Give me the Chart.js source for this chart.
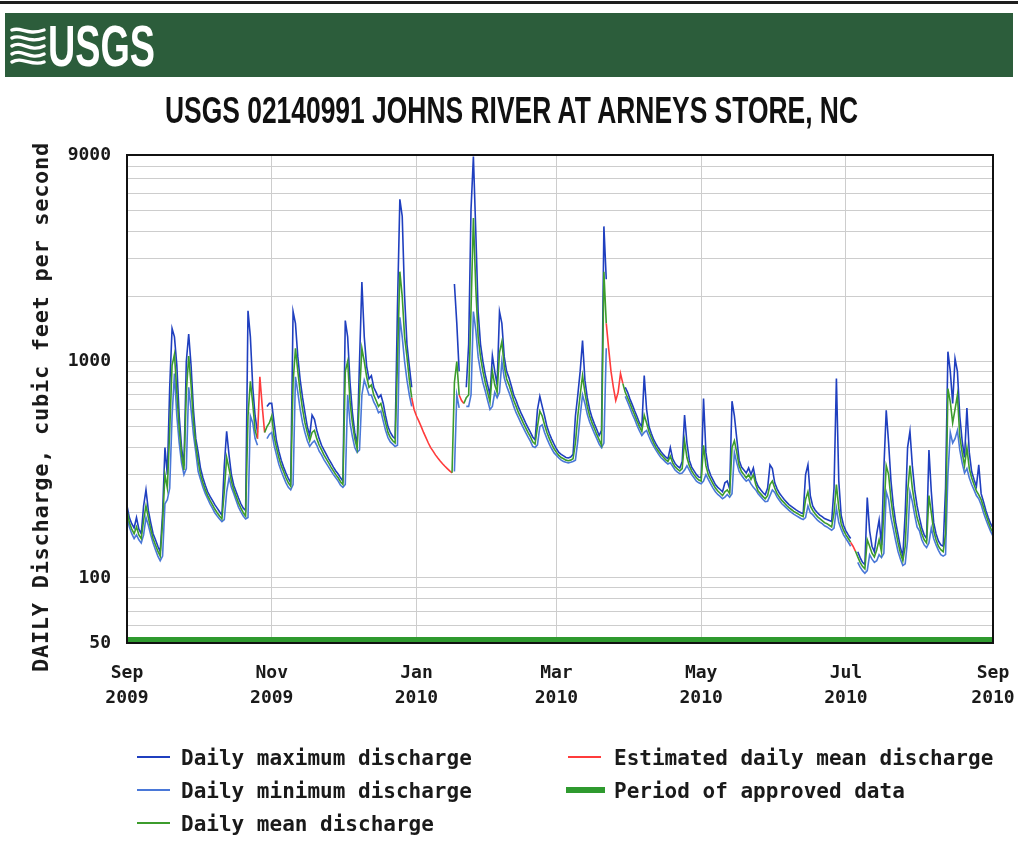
<!DOCTYPE html>
<html>
<head>
<meta charset="utf-8">
<title>USGS 02140991 JOHNS RIVER AT ARNEYS STORE, NC</title>
<script src="https://cdn.jsdelivr.net/npm/chart.js@4.4.1/dist/chart.umd.min.js"></script>
<style>
  html, body { margin: 0; padding: 0; background: #fff; }
  body { width: 1018px; height: 859px; position: relative; overflow: hidden; }
  #flow { position: absolute; left: 0; top: 0; }
  #topRule { position: absolute; left: 0; top: 1px; width: 1018px; height: 3px; background: #1e1e1e; }
  #banner { position: absolute; left: 5px; top: 13px; width: 1008px; height: 64px; background: #2c5d3b; }
  #logoMark { position: absolute; left: 10px; top: 25px; }
  .fit { position: absolute; white-space: nowrap; transform-origin: 0 0; display: inline-block; }
  #logoText { left: 48px; top: 17px; color: #fff; font: bold 58px/58px 'Liberation Sans Narrow', 'Liberation Sans', Arial, sans-serif; }
  #title { left: 165px; top: 92px; color: #111; font: bold 37px/37px 'Liberation Sans Narrow', 'Liberation Sans', Arial, sans-serif; }
  #yTitle { position: absolute; left: -229px; top: 394px; width: 540px; height: 26px; text-align: center;
            transform: rotate(-90deg); transform-origin: 50% 50%; white-space: nowrap;
            font: bold 22px/26px 'DejaVu Sans Mono', monospace; letter-spacing: 0.7px; color: #1a1a1a; }
  .key { position: absolute; height: 2px; }
  .keyText { position: absolute; white-space: nowrap; font: bold 21px/24px 'DejaVu Sans Mono', monospace; color: #1a1a1a; }
</style>
</head>
<body>
<canvas id="flow" width="1018" height="859"></canvas>
<div id="topRule"></div>
<div id="banner"></div>
<svg id="logoMark" width="36" height="42" viewBox="0 0 36 42">
  <g fill="none" stroke="#fff" stroke-width="3.4" stroke-linecap="round">
    <path d="M2 5 C 11 1, 17 11, 34 5"/>
    <path d="M2 13 C 11 8, 18 19, 34 13"/>
    <path d="M2 21 C 12 15, 20 28, 34 21"/>
    <path d="M2 29 C 12 23, 20 36, 34 29"/>
    <path d="M2 37 C 12 31, 22 42, 34 37"/>
  </g>
</svg>
<span id="logoText" class="fit">USGS</span>
<span id="title" class="fit">USGS 02140991 JOHNS RIVER AT ARNEYS STORE, NC</span>
<div id="yTitle">DAILY Discharge, cubic feet per second</div>

<div class="key" style="left:137px; top:756px; width:33px; background:#1f3fbf;"></div>
<span class="keyText" style="left:181px; top:746px;">Daily maximum discharge</span>
<div class="key" style="left:137px; top:789px; width:33px; background:#4a78d8;"></div>
<span class="keyText" style="left:181px; top:779px;">Daily minimum discharge</span>
<div class="key" style="left:137px; top:822px; width:33px; background:#3c9c2c;"></div>
<span class="keyText" style="left:181px; top:812px;">Daily mean discharge</span>
<div class="key" style="left:568px; top:756px; width:33px; background:#ff3b3b;"></div>
<span class="keyText" style="left:614px; top:746px;">Estimated daily mean discharge</span>
<div class="key" style="left:566px; top:787px; width:39px; height:6px; background:#2f9a2f;"></div>
<span class="keyText" style="left:614px; top:779px;">Period of approved data</span>

<script>
// Daily discharge, cubic feet per second, one value per day from 2009-09-01 (day 0) to 2010-09-01 (day 365).
const dailyMean = [
  // Sep 2009
  205,180,168,160,172,158,152,185,215,190,168,152,142,133,126,180,300,260,480,960,1080,720,490,370,315,720,1060,780,530,410,
  // Oct 2009
  345,300,275,255,240,228,218,208,200,193,187,250,360,320,280,255,238,222,210,200,193,560,810,640,480,440,850,620,470,500,520,
  // Nov 2009
  560,450,400,360,330,310,290,275,265,800,1150,900,720,600,520,470,430,470,480,440,410,390,370,355,340,325,312,300,290,278,
  // Dec 2009
  270,900,1000,650,520,440,395,700,1150,1000,850,760,780,700,660,620,640,580,520,470,445,430,420,1000,2600,2000,1300,1050,820,680,600,
  // Jan 2010
  560,530,500,470,445,420,400,385,370,358,347,337,328,320,312,306,800,1000,700,660,640,680,700,1750,4600,2200,1300,1050,900,800,720,
  // Feb 2010
  650,900,780,720,1100,1235,950,830,780,720,660,620,580,550,520,495,470,450,425,415,500,590,560,510,470,440,415,395,
  // Mar 2010
  380,368,360,355,350,348,350,355,420,560,700,860,720,620,560,520,490,460,435,410,2600,1500,1150,900,760,660,720,880,790,720,680,
  // Apr 2010
  640,600,565,530,500,475,565,520,475,445,420,400,385,372,362,352,345,365,340,326,318,312,320,430,360,330,312,300,290,283,
  // May 2010
  280,410,330,300,285,272,260,252,246,240,250,255,245,400,430,380,330,310,300,290,300,285,300,270,252,245,238,232,240,270,280,
  // Jun 2010
  260,245,236,228,222,216,211,207,203,200,197,194,192,230,250,215,205,198,192,188,184,180,178,175,172,200,270,210,178,166,
  // Jul 2010
  158,152,146,140,133,125,118,113,110,150,140,130,125,135,150,132,200,330,300,230,190,165,145,130,120,140,250,330,260,220,190,
  // Aug 2010 and 1 Sep 2010
  175,160,150,145,240,200,165,150,140,135,132,160,750,650,520,600,700,450,380,330,400,320,290,270,252,242,230,212,196,182,170,162
];

const dailyMax = [
  // Sep 2009
  215,190,178,170,190,168,160,215,255,205,180,160,150,140,132,200,400,300,760,1420,1300,960,560,400,330,1000,1340,960,600,440,
  // Oct 2009
  380,320,290,268,250,238,228,218,210,202,195,330,476,370,300,268,250,234,220,210,205,1715,1300,760,560,470,null,null,null,620,640,
  // Nov 2009
  640,520,430,385,350,325,305,288,275,1700,1500,1050,820,680,580,500,455,565,540,480,440,410,390,372,355,340,325,312,302,290,
  // Dec 2009
  280,1545,1300,800,580,470,410,1000,2330,1300,950,830,860,760,720,680,700,640,560,500,470,450,440,1800,5620,4690,2000,1200,950,760,null,
  // Jan 2010
  null,null,null,null,null,null,null,null,null,null,null,null,null,null,null,null,2280,1500,900,null,null,760,1200,5050,8850,4000,1700,1200,1000,870,780,
  // Feb 2010
  700,1065,900,780,1700,1500,1050,900,840,770,700,660,615,580,550,520,495,472,448,435,600,690,620,560,500,465,438,415,
  // Mar 2010
  395,380,372,366,360,358,362,372,560,700,900,1250,820,680,600,550,515,485,455,480,4210,2400,null,null,null,null,null,null,null,760,720,
  // Apr 2010
  670,630,590,555,520,500,860,600,500,465,435,415,398,384,372,362,355,400,355,338,328,322,345,565,420,350,325,312,300,292,
  // May 2010
  290,675,380,320,298,284,270,262,256,250,275,280,258,655,560,440,350,325,315,305,322,300,322,282,265,256,248,242,260,333,320,
  // Jun 2010
  275,258,246,238,230,224,218,214,210,206,203,200,198,300,333,240,215,206,200,195,192,188,186,184,182,260,835,280,195,175,
  // Jul 2010
  165,158,152,null,null,132,124,118,115,235,165,140,132,160,185,142,320,595,420,280,215,180,158,138,126,200,400,476,330,255,215,
  // Aug 2010 and 1 Sep 2010
  190,170,158,152,390,250,180,160,148,142,140,260,1110,900,640,1030,900,560,430,360,610,380,310,285,265,333,245,225,205,190,178,170
];

const dailyMin = [
  // Sep 2009
  190,172,160,152,158,150,145,158,190,175,158,145,135,126,120,126,220,230,260,560,880,560,420,340,300,320,760,600,460,380,
  // Oct 2009
  310,285,262,245,232,220,210,200,193,187,182,186,250,290,262,245,228,212,202,193,187,190,560,520,440,410,null,null,null,440,460,
  // Nov 2009
  470,410,370,335,312,292,275,262,255,270,850,720,600,520,470,430,405,420,430,410,385,370,352,338,325,312,300,290,280,268,
  // Dec 2009
  262,270,700,520,450,400,380,390,700,820,760,700,700,650,620,580,590,530,480,445,425,415,405,410,1600,1300,1000,820,700,620,null,
  // Jan 2010
  null,null,null,null,null,null,null,null,null,null,null,null,null,null,null,null,310,700,610,null,null,620,620,700,1700,1400,1050,900,800,730,660,
  // Feb 2010
  600,620,720,680,720,1000,840,770,720,670,620,580,550,520,495,470,448,428,405,400,412,500,510,470,440,415,395,378,
  // Mar 2010
  368,358,350,345,342,340,342,345,350,430,560,700,640,570,525,495,465,440,415,400,420,1150,null,null,null,null,null,null,null,690,650,
  // Apr 2010
  610,570,540,505,478,455,470,480,450,425,405,388,373,360,352,343,336,340,328,315,308,303,305,315,330,315,300,290,280,275,
  // May 2010
  272,280,300,285,272,260,250,243,238,232,236,243,236,245,380,340,310,298,288,280,285,272,262,255,245,238,231,225,226,240,255,
  // Jun 2010
  248,236,228,220,215,210,205,201,197,194,191,188,186,190,215,200,196,190,185,181,178,174,172,169,166,170,210,180,168,158,
  // Jul 2010
  152,146,140,null,null,118,112,108,105,108,128,122,118,120,128,124,130,250,230,190,168,148,132,122,114,116,150,250,225,195,172,
  // Aug 2010 and 1 Sep 2010
  165,150,142,138,145,170,152,142,134,128,126,128,300,470,420,440,480,390,340,305,320,290,270,255,240,232,218,200,186,174,164,156
];

// Day ranges (inclusive) whose mean discharge is estimated.
const estimatedSpans = [[56, 58], [121, 137], [141, 142], [203, 209], [306, 307]];

// First and last day of approved record.
const approvedPeriod = [0, 365];

// Axis ticks.
const monthTicks = [0, 61, 122, 181, 242, 303, 365];
const monthLabels = [['Sep', '2009'], ['Nov', '2009'], ['Jan', '2010'], ['Mar', '2010'], ['May', '2010'], ['Jul', '2010'], ['Sep', '2010']];
const gridValues = [50, 60, 70, 80, 90, 100, 200, 300, 400, 500, 600, 700, 800, 900,
                    1000, 2000, 3000, 4000, 5000, 6000, 7000, 8000, 9000];
const labeledValues = [50, 100, 1000, 9000];

const MONO = "'DejaVu Sans Mono', monospace";
const GREEN = '#3c9c2c', RED = '#ff3b3b', MAXBLUE = '#1f3fbf', MINBLUE = '#4a78d8';
const GRID = '#cdcdcd';
const APPROVED_LEVEL = 51.6;   // draws the approved-record bar just above the axis floor

const estimatedDay = new Set();
estimatedSpans.forEach(([a, b]) => { for (let d = a; d <= b; d++) estimatedDay.add(d); });
const toPoints = arr => arr.map((v, i) => ({ x: i, y: v }));

const framePlugin = {
  id: 'frame',
  afterDraw(chart) {
    const { ctx, chartArea: a } = chart;
    ctx.save();
    ctx.strokeStyle = '#111';
    ctx.lineWidth = 2;
    ctx.strokeRect(a.left, a.top, a.right - a.left, a.bottom - a.top);
    ctx.restore();
  }
};

const lineBase = { pointRadius: 0, tension: 0, spanGaps: false, fill: false };

new Chart(document.getElementById('flow'), {
  type: 'line',
  data: {
    datasets: [
      Object.assign({}, lineBase, {
        label: 'Daily mean discharge', data: toPoints(dailyMean),
        borderColor: GREEN, borderWidth: 1.6, order: 0,
        segment: { borderColor: c => estimatedDay.has(c.p1DataIndex) ? RED : undefined }
      }),
      Object.assign({}, lineBase, {
        label: 'Daily minimum discharge', data: toPoints(dailyMin),
        borderColor: MINBLUE, borderWidth: 1.6, order: 1
      }),
      Object.assign({}, lineBase, {
        label: 'Daily maximum discharge', data: toPoints(dailyMax),
        borderColor: MAXBLUE, borderWidth: 1.6, order: 2
      }),
      Object.assign({}, lineBase, {
        label: 'Period of approved data',
        data: approvedPeriod.map(d => ({ x: d, y: APPROVED_LEVEL })),
        borderColor: '#2f9a2f', borderWidth: 6, borderCapStyle: 'butt', order: 3
      })
    ]
  },
  options: {
    responsive: false,
    animation: false,
    events: [],
    layout: { autoPadding: false, padding: { left: 0, top: 155, right: 25, bottom: 146 } },
    plugins: { legend: { display: false }, tooltip: { enabled: false }, title: { display: false } },
    scales: {
      x: {
        type: 'linear', min: 0, max: 365,
        afterBuildTicks: s => { s.ticks = monthTicks.map(v => ({ value: v })); },
        // fixed axis band; end labels may overhang the plot edges
        afterFit: s => { s.height = 70; s.paddingLeft = 0; s.paddingRight = 0; },
        ticks: {
          autoSkip: false, maxRotation: 0, minRotation: 0, padding: 18, color: '#1a1a1a',
          font: { family: MONO, size: 18, weight: 'bold', lineHeight: 1.4 },
          callback: v => monthLabels[monthTicks.indexOf(v)]
        },
        grid: {
          drawTicks: false, lineWidth: 1,
          color: c => (c.index === 0 || c.index === monthTicks.length - 1) ? 'rgba(0,0,0,0)' : GRID
        },
        border: { display: false }
      },
      y: {
        type: 'logarithmic', min: 50, max: 9000,
        afterBuildTicks: s => { s.ticks = gridValues.map(v => ({ value: v })); },
        afterFit: s => { s.width = 127; s.paddingTop = 0; s.paddingBottom = 0; },
        ticks: {
          autoSkip: false, padding: 16, color: '#1a1a1a',
          font: { family: MONO, size: 18, weight: 'bold' },
          callback: v => labeledValues.includes(v) ? String(v) : ''
        },
        grid: {
          drawTicks: false, lineWidth: 1,
          color: c => (c.tick && (c.tick.value === 50 || c.tick.value === 9000)) ? 'rgba(0,0,0,0)' : GRID
        },
        border: { display: false }
      }
    }
  },
  plugins: [framePlugin]
});

// Stretch the condensed headings to their set widths.
function fitWidth(id, w) {
  const el = document.getElementById(id);
  el.style.transform = 'none';
  const natural = el.getBoundingClientRect().width;
  if (natural > 0) el.style.transform = 'scaleX(' + (w / natural) + ')';
}
function fitAll() { fitWidth('logoText', 107); fitWidth('title', 693); }
fitAll();
if (document.fonts && document.fonts.ready) document.fonts.ready.then(fitAll);
</script>
</body>
</html>
